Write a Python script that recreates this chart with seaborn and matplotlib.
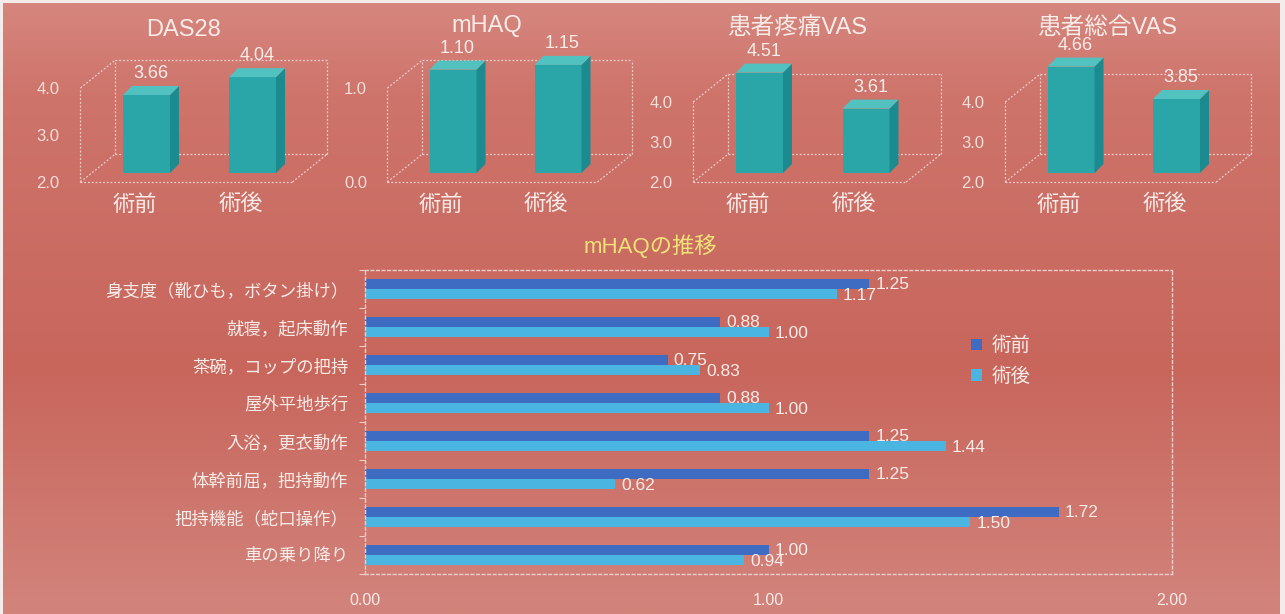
import numpy as np
import pandas as pd
import matplotlib
matplotlib.use("Agg")
import matplotlib.pyplot as plt
from matplotlib.colors import LinearSegmentedColormap
from matplotlib.patches import Polygon
from matplotlib.ticker import FormatStrFormatter
import seaborn as sns

# ---------------- data ----------------
periods = ["術前", "術後"]
das28 = [3.66, 4.04]
mhaq_total = [1.10, 1.15]
pain_vas = [4.51, 3.61]
global_vas = [4.66, 3.85]

haq_items = [
    "身支度（靴ひも，ボタン掛け）",
    "就寝，起床動作",
    "茶碗，コップの把持",
    "屋外平地歩行",
    "入浴，更衣動作",
    "体幹前屈，把持動作",
    "把持機能（蛇口操作）",
    "車の乗り降り",
]
haq_pre = [1.25, 0.88, 0.75, 0.88, 1.25, 1.25, 1.72, 1.00]
haq_post = [1.17, 1.00, 0.83, 1.00, 1.44, 0.62, 1.50, 0.94]

# ---------------- style ----------------
sns.set_theme(style="white")
plt.rcParams["font.family"] = ["Liberation Sans", "Noto Sans CJK JP"]

TXT = "#F8ECE9"
TICK_TXT = "#F2DEDA"
FRAME = "#EDCDCA"
TITLE_YELLOW = "#EFE276"
FRONT, SIDE, TOP = "#2AA6A8", "#1C8B90", "#52C2C0"
DARK, LIGHT = "#3E6CC3", "#4BB5E2"

W, H = 1285, 614
fig = plt.figure(figsize=(W / 100, H / 100), dpi=100)
fig.patch.set_facecolor("#F3ECEA")


def px_axes(left, top, right, bottom):
    return fig.add_axes([left / W, 1 - bottom / H, (right - left) / W, (bottom - top) / H])


# slide background
bg = px_axes(3, 3, 1280, 614)
bg.set_zorder(0)
bg_cmap = LinearSegmentedColormap.from_list(
    "slide", [(0.0, "#D6867E"), (0.15, "#CE746B"), (0.6, "#C8665C"), (1.0, "#D2847C")]
)
bg.imshow(np.linspace(0, 1, 256)[:, None], cmap=bg_cmap, aspect="auto", extent=[0, 1, 0, 1])
bg.set_axis_off()

# ---------------- top: four pseudo-3D column charts ----------------
BASE = 173          # pixel row of the column bases
FLOOR = 182         # pixel row of the front floor edge
panels = [
    dict(title="DAS28", values=das28, vmin=2.0, vmax=4.0, ticks=[2.0, 3.0, 4.0],
         c0=146.5, s=106.0, k=47.0, floor_left=80, title_xy=(183, 30)),
    dict(title="mHAQ", values=mhaq_total, vmin=0.0, vmax=1.0, ticks=[0.0, 1.0],
         c0=453.0, s=105.0, k=94.0, floor_left=388, title_xy=(487, 26)),
    dict(title="患者疼痛VAS", values=pain_vas, vmin=2.0, vmax=4.0, ticks=[2.0, 3.0, 4.0],
         c0=759.5, s=106.5, k=40.0, floor_left=693, title_xy=(797, 28)),
    dict(title="患者総合VAS", values=global_vas, vmin=2.0, vmax=4.0, ticks=[2.0, 3.0, 4.0],
         c0=1071.0, s=105.5, k=40.0, floor_left=1005, title_xy=(1107, 28)),
]

for p in panels:
    s, k, vmin, vmax = p["s"], p["k"], p["vmin"], p["vmax"]
    left, right, top, bottom = p["floor_left"], p["floor_left"] + 2 * s + 45, 8, FLOOR
    ax = px_axes(left, top, right, bottom)
    ax.set_zorder(1)
    ax.patch.set_visible(False)

    sns.barplot(x=periods, y=p["values"], ax=ax, width=47 / s, color=FRONT,
                saturation=1, errorbar=None, edgecolor="none", linewidth=0, zorder=3)

    ax.set_xlim((left - p["c0"]) / s, (right - p["c0"]) / s)
    ax.set_ylim(vmin + (BASE - bottom) / k, vmin + (BASE - top) / k)

    # column depth (pixels -> data units)
    ddx, ddy = 9 / s, 9 / k
    for bar, v in zip(ax.containers[0], p["values"]):
        bar.set_y(vmin)
        bar.set_height(v - vmin)
        x0 = bar.get_x()
        x1 = x0 + bar.get_width()
        ax.add_patch(Polygon([(x1, vmin), (x1 + ddx, vmin + ddy), (x1 + ddx, v + ddy), (x1, v)],
                             closed=True, facecolor=SIDE, edgecolor="none", zorder=3))
        ax.add_patch(Polygon([(x0, v), (x0 + ddx, v + ddy), (x1 + ddx, v + ddy), (x1, v)],
                             closed=True, facecolor=TOP, edgecolor="none", zorder=3))
        ax.annotate(f"{v:.2f}", xy=((x0 + x1) / 2 + ddx / 2, v + ddy), xytext=(0, 4),
                    textcoords="offset pixels", ha="center", va="bottom",
                    fontsize=13, color=TXT, annotation_clip=False, zorder=5)

    # dotted wire box: front plane and back wall offsets
    fdx, fdy = -12 / s, -9 / k
    bdx, bdy = 23 / s, 19 / k
    lo, hi = -0.51, 1.49

    def F(x, v):
        return (x + fdx, v + fdy)

    def B(x, v):
        return (x + bdx, v + bdy)

    segments = [
        (F(lo, vmin), F(hi, vmin)),
        (F(lo, vmin), F(lo, vmax)),
        (F(lo, vmax), B(lo, vmax)),
        (F(lo, vmin), B(lo, vmin)),
        (F(hi, vmin), B(hi, vmin)),
        (B(lo, vmin), B(hi, vmin)),
        (B(lo, vmin), B(lo, vmax)),
        (B(hi, vmin), B(hi, vmax)),
        (B(lo, vmax), B(hi, vmax)),
    ]
    for a, b in segments:
        ax.plot([a[0], b[0]], [a[1], b[1]], color=FRAME, lw=0.9,
                linestyle=(0, (1.5, 1.5)), clip_on=False, zorder=1)

    ax.set_yticks([t + fdy for t in p["ticks"]], labels=[f"{t:.1f}" for t in p["ticks"]])
    ax.set_xticks([i + fdx for i in range(len(periods))], labels=periods)
    ax.tick_params(axis="y", length=0, pad=15, labelsize=12, labelcolor=TICK_TXT)
    ax.tick_params(axis="x", length=0, pad=9, labelsize=16, labelcolor=TXT)
    ax.set_xlabel("")
    ax.set_ylabel("")
    for sp in ax.spines.values():
        sp.set_visible(False)

    fig.text(p["title_xy"][0] / W, 1 - p["title_xy"][1] / H, p["title"],
             ha="center", va="center", fontsize=17, color=TXT)

# ---------------- bottom: mHAQ item breakdown ----------------
haq_df = pd.DataFrame({
    "item": haq_items * 2,
    "period": [periods[0]] * len(haq_items) + [periods[1]] * len(haq_items),
    "score": haq_pre + haq_post,
})

ax2 = px_axes(365, 270, 1172, 574)
ax2.set_zorder(1)
ax2.patch.set_visible(False)
sns.barplot(data=haq_df, x="score", y="item", hue="period", orient="h",
            order=haq_items, hue_order=periods, palette=[DARK, LIGHT],
            width=0.55, saturation=1, errorbar=None, edgecolor="none", linewidth=0, ax=ax2)

ax2.set_xlim(0, 2)
ax2.set_ylim(len(haq_items) - 0.5, -0.5)

for container, vals in zip(ax2.containers, [haq_pre, haq_post]):
    for bar, v in zip(container, vals):
        yc = bar.get_y() + bar.get_height() / 2
        ax2.annotate(f"{v:.2f}", xy=(v, yc), xytext=(6, -1), textcoords="offset pixels",
                     ha="left", va="center", fontsize=12.5, color=TXT, annotation_clip=False)

handles, labels = ax2.get_legend_handles_labels()
ax2.legend(handles, labels, loc="center left", bbox_to_anchor=(0.751, 0.70),
           frameon=False, fontsize=14, labelcolor=TXT, handlelength=0.55, handleheight=0.55,
           handletextpad=0.5, labelspacing=0.6, borderaxespad=0, borderpad=0)

ax2.set_xticks([0, 1, 2])
ax2.xaxis.set_major_formatter(FormatStrFormatter("%.2f"))
ax2.set_yticks(np.arange(-0.5, len(haq_items), 1.0), minor=True)
ax2.tick_params(axis="x", length=0, pad=14, labelsize=11.5, labelcolor=TXT)
ax2.tick_params(axis="y", which="major", length=0, pad=12, labelsize=12.5, labelcolor=TXT)
ax2.tick_params(axis="y", which="minor", left=True, length=4, width=0.8, color=FRAME)
ax2.set_xlabel("")
ax2.set_ylabel("")
for sp in ax2.spines.values():
    sp.set_visible(True)
    sp.set_color(FRAME)
    sp.set_linewidth(1.0)
    sp.set_linestyle((0, (2, 2)))

fig.text(650 / W, 1 - 246 / H, "mHAQの推移", ha="center", va="center",
         fontsize=16, color=TITLE_YELLOW)

fig.savefig("out.png", dpi=100, facecolor=fig.get_facecolor())
